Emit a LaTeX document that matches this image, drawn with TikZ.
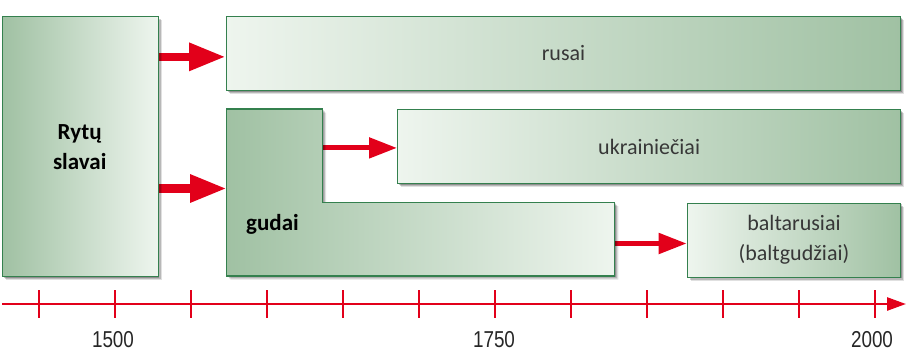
\documentclass[tikz,border=0pt]{standalone}
\usepackage{fontspec}
\setmainfont{Carlito}
\newfontfamily\yearfont[FakeStretch=0.82]{Liberation Sans}
\usetikzlibrary{arrows.meta,shadows,calc}
\definecolor{gdark}{RGB}{160,193,163}
\definecolor{glight}{RGB}{238,245,238}
\definecolor{gborder}{RGB}{52,128,78}
\definecolor{ared}{RGB}{226,0,26}
\definecolor{txt}{RGB}{55,55,55}
\begin{document}
\begin{tikzpicture}[x=1pt,y=-1pt,
  softshadow/.style={
    drop shadow={shadow xshift=1.2pt,shadow yshift=-1.2pt,opacity=0.22,fill=black},
    drop shadow={shadow xshift=2.4pt,shadow yshift=-2.4pt,opacity=0.18,fill=black},
    drop shadow={shadow xshift=3.6pt,shadow yshift=-3.6pt,opacity=0.12,fill=black}},
  box/.style={draw=gborder, line width=1.3pt, inner sep=0pt, anchor=north west, softshadow,
    align=center, text=txt, font=\fontsize{22}{30}\selectfont},
  darkleft/.style={left color=gdark, right color=glight},
  darkright/.style={left color=glight, right color=gdark},
  boldlbl/.style={font=\bfseries\fontsize{23}{30}\selectfont, text=black},
  bigarrow/.style={draw=ared, line width=8.4pt, -{Triangle[length=36.5pt,width=26pt]}},
  smallarrow/.style={draw=ared, line width=5pt, -{Triangle[length=28pt,width=20pt]}},
  axisline/.style={draw=ared, line width=2.6pt, -{Triangle[length=19pt,width=13pt]}},
  tickline/.style={draw=ared, line width=2pt},
  yearlbl/.style={font=\yearfont\fontsize{23}{26}\selectfont, text=black!85, inner sep=0pt, anchor=base},
  ghost/.style={inner sep=0pt, anchor=north west}
]
\useasboundingbox (0,0) rectangle (912,351);

% invisible helper nodes for the L-shaped "gudai" box
\node[ghost, minimum width=95.8pt, minimum height=167pt] (gudaiTop) at (226.7,109) {};
\node[ghost, minimum width=388pt, minimum height=73.5pt] (gudaiBot) at (226.7,202.5) {};
\node[ghost, minimum width=155.5pt, minimum height=260pt] (rytuG) at (2,16) {};
\node[ghost, minimum width=674.3pt, minimum height=74.3pt] (rusaiG) at (225.7,15.7) {};
\node[ghost, minimum width=503pt, minimum height=74pt] (ukrG) at (397,109) {};
\node[ghost, minimum width=213.3pt, minimum height=74pt] (baltG) at (686.7,202.5) {};

% connectors (drawn first, so the box shadows fall on them)
\draw[bigarrow] ([yshift=-3.8pt]rytuG.east |- rusaiG.west) -- ([yshift=-3.8pt]rusaiG.west);
\draw[bigarrow] ([yshift=4.2pt]rytuG.east |- gudaiTop.west) -- ([yshift=4.2pt]gudaiTop.west);
\draw[smallarrow] ([yshift=-1.7pt]gudaiTop.east |- ukrG.west) -- ([yshift=-1.7pt]ukrG.west);
\draw[smallarrow] ([yshift=-3.8pt]gudaiBot.east |- baltG.west) -- ([yshift=-3.8pt]baltG.west);

% boxes
\node[box, darkleft, minimum width=155.5pt, minimum height=260pt] (rytu) at (2,16) {};
\node[boldlbl, align=center] (rytuL) at (79.7,147) {Rytų\\slavai};
\node[box, darkright, minimum width=674.3pt, minimum height=74.3pt] (rusai) at (225.7,15.7) {rusai};
\node[box, darkright, minimum width=503pt, minimum height=74pt] (ukr) at (397,109) {ukrainiečiai};
\node[box, darkright, minimum width=213.3pt, minimum height=74pt] (balt) at (686.7,202.5) {baltarusiai\\(baltgudžiai)};
\path[softshadow, darkleft, draw=gborder, line width=1.3pt, line join=miter]
  (226.7,109) -- (322.5,109) -- (322.5,202.5) -- (614.7,202.5) -- (614.7,276) -- (226.7,276) -- cycle;
\node[boldlbl, anchor=west, inner sep=0pt] (gudai) at (246,224) {gudai};

% time axis
\coordinate (axs) at (2,304);
\coordinate (axe) at (906,304);
\draw[axisline] (axs) -- (axe);
\foreach \i in {0,...,11} {
  \draw[tickline] ({38.6+76.03*\i},290) -- ({38.6+76.03*\i},318);
}
\node[yearlbl] (y1500) at (113,347) {1500};
\node[yearlbl] (y1750) at (494,347) {1750};
\node[yearlbl] (y2000) at (872,347) {2000};
\end{tikzpicture}
\end{document}
